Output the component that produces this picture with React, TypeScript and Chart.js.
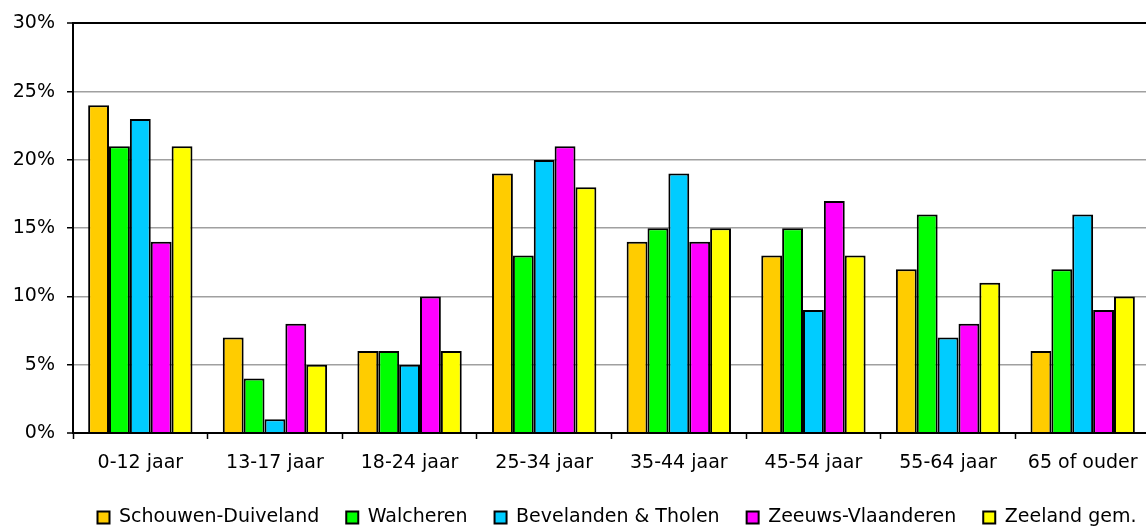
import React, { useEffect, useRef } from "react";
import { Chart, registerables } from "chart.js";

Chart.register(...registerables);

const categories = ["0-12 jaar", "13-17 jaar", "18-24 jaar", "25-34 jaar", "35-44 jaar", "45-54 jaar", "55-64 jaar", "65 of ouder"];
const seriesNames = ["Schouwen-Duiveland", "Walcheren", "Bevelanden & Tholen", "Zeeuws-Vlaanderen", "Zeeland gem."];
const schouwen = [24, 7, 6, 19, 14, 13, 12, 6];
const walcheren = [21, 4, 6, 13, 15, 15, 16, 12];
const bevelanden = [23, 1, 5, 20, 19, 9, 7, 16];
const zeeuwsVlaanderen = [14, 8, 10, 21, 14, 17, 8, 9];
const zeelandGem = [21, 5, 6, 18, 15, 13, 11, 10];
const seriesColors = ["#FFCC00", "#00FF00", "#00CCFF", "#FF00FF", "#FFFF00"];
const yTicks = [0, 5, 10, 15, 20, 25, 30];

const FONT = "'DejaVu Sans', Verdana, sans-serif";

export default function App() {
  const ref = useRef<HTMLCanvasElement | null>(null);
  useEffect(() => {
    document.body.style.margin = "0";
    document.body.style.overflow = "hidden";
    const canvas = ref.current;
    if (!canvas) return;
    const values = [schouwen, walcheren, bevelanden, zeeuwsVlaanderen, zeelandGem];
    const chart = new Chart(canvas, {
      type: "bar",
      data: {
        labels: categories,
        datasets: seriesNames.map((name, i) => ({
          label: name,
          data: values[i],
          backgroundColor: seriesColors[i],
          borderColor: "#000000",
          borderWidth: 2,
          barPercentage: 1,
          categoryPercentage: 0.775,
        })),
      },
      options: {
        animation: false,
        responsive: false,
        devicePixelRatio: 1,
        layout: { padding: { top: 20, right: 0, left: 0, bottom: -11 } },
        plugins: {
          tooltip: { enabled: false },
          legend: {
            position: "bottom",
            labels: {
              boxWidth: 12,
              boxHeight: 12,
              padding: 27,
              color: "#000",
              font: { family: FONT, size: 19 },
            },
          },
        },
        scales: {
          x: {
            grid: {
              drawOnChartArea: false,
              tickLength: 6,
              tickColor: "#000",
              tickWidth: 1.5,
              offset: true,
            },
            border: { color: "#000", width: 2 },
            ticks: { color: "#000", font: { family: FONT, size: 19 }, padding: 13, maxRotation: 0 },
            afterFit: (s: any) => { s.height = 48; },
          },
          y: {
            min: 0,
            max: 30,
            afterBuildTicks: (s: any) => { s.ticks = yTicks.map((v) => ({ value: v })); },
            grid: {
              color: (c: any) => (c.tick && (c.tick.value === 30 || c.tick.value === 0) ? "#000" : "#A0A0A0"),
              lineWidth: (c: any) => (c.tick && (c.tick.value === 30 || c.tick.value === 0) ? 2 : 1.5),
              tickLength: 6,
              tickColor: "#000",
              tickWidth: 1.5,
            },
            border: { color: "#000", width: 2 },
            ticks: {
              color: "#000",
              font: { family: FONT, size: 19 },
              padding: 12,
              callback: (v: any) => v + "%",
            },
            afterFit: (s: any) => { s.width = 73; },
          },
          yRight: {
            position: "right",
            min: 0,
            max: 30,
            grid: { display: false },
            border: { display: false },
            ticks: { display: false },
            afterFit: (s: any) => { s.width = 84; },
          },
        },
      },
    });
    return () => chart.destroy();
  }, []);
  return (
    <div style={{ position: "absolute", left: 0, top: 0, width: 1146, height: 526, overflow: "hidden", background: "#fff" }}>
      <canvas ref={ref} width={1234} height={526} style={{ display: "block" }} />
    </div>
  );
}
